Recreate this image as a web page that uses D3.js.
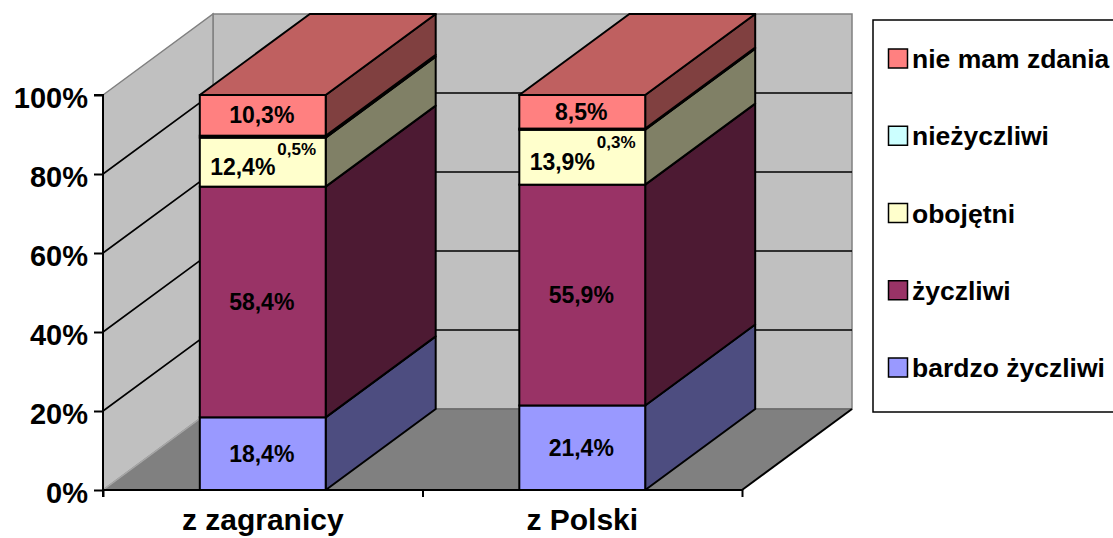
<!DOCTYPE html>
<html><head><meta charset="utf-8">
<script src="https://cdn.jsdelivr.net/npm/d3@7/dist/d3.min.js"></script>
<style>
html,body{margin:0;padding:0;background:#fff;overflow:hidden;}
text{font-family:"Liberation Sans",Arial,sans-serif;font-weight:bold;fill:#000;}
</style></head>
<body>
<svg id="chart" width="1113" height="538"></svg>
<script>
// ---- data ----
const categories = ["z zagranicy", "z Polski"];
const seriesNames = ["bardzo życzliwi", "życzliwi", "obojętni", "nieżyczliwi", "nie mam zdania"];
const bardzoZyczliwi = [18.4, 21.4];
const zyczliwi = [58.4, 55.9];
const obojetni = [12.4, 13.9];
const niezyczliwi = [0.5, 0.3];
const nieMamZdania = [10.3, 8.5];
const yTickValues = [0, 20, 40, 60, 80, 100];

// ---- styles ----
const frontColors = ["#9999ff", "#993366", "#ffffcc", "#ccffff", "#ff8080"];
const sideColors  = ["#4d4d80", "#4d1a33", "#808066", "#668080", "#804040"];
const topColor = "#bf6060";

const seriesValues = [bardzoZyczliwi, zyczliwi, obojetni, niezyczliwi, nieMamZdania];
const rows = categories.map((c, i) => {
  const r = {cat: c};
  seriesNames.forEach((s, k) => r[s] = seriesValues[k][i]);
  return r;
});
const stacked = d3.stack().keys(seriesNames)(rows);

const svg = d3.select("#chart");
const x0 = 103, x1 = 742, yBottom = 490, yTop = 95;
const DX = 110, DY = -81;

const y = d3.scaleLinear().domain([0, 100]).range([yBottom, yTop]);
const x = d3.scaleBand().domain(categories).range([x0, x1]).paddingInner(0.606).paddingOuter(0.303);
const xEdge = d3.scaleLinear().domain([0, categories.length]).range([x0, x1]);

const fmt = d3.formatLocale({decimal: ",", thousands: " ", grouping: [3], currency: ["", ""]}).format(".1f");
const pct = v => fmt(v) + "%";

const line = d3.line();

// walls
svg.append("path").attr("d", line([[x0+DX, y(100)+DY],[x1+DX, y(100)+DY],[x1+DX, y(0)+DY],[x0+DX, y(0)+DY]]) + "Z")
  .attr("fill", "#c0c0c0").attr("stroke", "#808080").attr("stroke-width", 1.5);
svg.append("path").attr("d", line([[x0, y(100)],[x0+DX, y(100)+DY],[x0+DX, y(0)+DY],[x0, y(0)]]) + "Z")
  .attr("fill", "#c0c0c0").attr("stroke", "#808080").attr("stroke-width", 1.5);

// gridlines
const gridVals = yTickValues.filter(v => v > 0 && v < 100);
gridVals.forEach(v => {
  svg.append("path").attr("d", line([[x0, y(v)],[x0+DX, y(v)+DY],[x1+DX, y(v)+DY]]))
    .attr("fill", "none").attr("stroke", "#000").attr("stroke-width", 1.6);
});

// floor
svg.append("path").attr("d", line([[x0, y(0)],[x0+DX, y(0)+DY],[x1+DX, y(0)+DY],[x1, y(0)]]) + "Z")
  .attr("fill", "#808080").attr("stroke", "none");
svg.append("path").attr("d", line([[x0, y(0)],[x0+DX, y(0)+DY]])).attr("stroke", "#a8a8a8").attr("stroke-width", 1.5);
svg.append("path").attr("d", line([[x0+DX, y(0)+DY],[x1+DX, y(0)+DY]])).attr("stroke", "#6a6a6a").attr("stroke-width", 1.5);
svg.append("path").attr("d", line([[x1, y(0)],[x1+DX, y(0)+DY]])).attr("stroke", "#000").attr("stroke-width", 2);

// bars
const bw = x.bandwidth();
categories.forEach((c, i) => {
  const g = svg.append("g");
  const bl = x(c), br = x(c) + bw;
  stacked.forEach((layer, k) => {
    const d = layer[i];
    const ya = y(d[0]), yb = y(d[1]);
    g.append("path").attr("d", line([[br, yb],[br+DX, yb+DY],[br+DX, ya+DY],[br, ya]]) + "Z")
      .attr("fill", sideColors[k]).attr("stroke", "#000").attr("stroke-width", 2).attr("stroke-linejoin", "round");
    g.append("rect").attr("x", bl).attr("y", yb).attr("width", bw).attr("height", ya - yb)
      .attr("fill", frontColors[k]).attr("stroke", "#000").attr("stroke-width", 2);
    if (k === stacked.length - 1) {
      g.append("path").attr("d", line([[bl, yb],[bl+DX, yb+DY],[br+DX, yb+DY],[br, yb]]) + "Z")
        .attr("fill", topColor).attr("stroke", "#000").attr("stroke-width", 2).attr("stroke-linejoin", "round");
    }
  });
  // labels
  stacked.forEach((layer, k) => {
    const d = layer[i];
    const v = d[1] - d[0];
    const cy = (y(d[0]) + y(d[1])) / 2;
    if (v < 2) {
      g.append("text").attr("x", br - 29).attr("y", cy + 18.5).attr("text-anchor", "middle")
        .style("font-size", "17px").text(pct(v));
    } else {
      const next = stacked[k+1] ? stacked[k+1][i] : null;
      const crowded = next && (next[1] - next[0]) < 2;
      g.append("text").attr("x", (bl + br) / 2 + (crowded ? -20 : -1)).attr("y", cy + (crowded ? 13 : 8))
        .attr("text-anchor", "middle").style("font-size", "23px").text(pct(v));
    }
  });
});

// axes
const yAxis = d3.axisLeft(y).tickValues(yTickValues).tickSize(9).tickPadding(6).tickFormat(d => d + "%");
const ya = svg.append("g").attr("transform", `translate(${x0},0)`).call(yAxis);
ya.select(".domain").attr("stroke", "#000").attr("stroke-width", 2).attr("d", `M-9,${y(100)}H0V${y(0)+7}`);
ya.selectAll(".tick line").attr("stroke", "#000").attr("stroke-width", 2);
ya.selectAll(".tick text").style("font-size", "29px").attr("dy", "0.42em")
  .style("font-family", '"Liberation Sans",Arial,sans-serif').style("font-weight", "bold").attr("fill", "#000");

const xAxis = d3.axisBottom(xEdge).tickValues(d3.range(categories.length + 1)).tickSize(7).tickFormat("");
const xa = svg.append("g").attr("transform", `translate(0,${y(0)})`).call(xAxis);
xa.select(".domain").attr("stroke", "#000").attr("stroke-width", 2).attr("d", `M${x0},0H${x1}`);
xa.selectAll(".tick line").attr("stroke", "#000").attr("stroke-width", 2);

svg.selectAll(".catlabel").data(categories).enter().append("text")
  .attr("x", d => x(d) + bw / 2).attr("y", 530).attr("text-anchor", "middle")
  .style("font-size", "30px").text(d => d);

// legend
const lg = svg.append("g");
lg.append("rect").attr("x", 873).attr("y", 20).attr("width", 260).attr("height", 392)
  .attr("fill", "#fff").attr("stroke", "#000").attr("stroke-width", 1.5);
const legendOrder = seriesNames.map((s, k) => k).reverse();
const ly = d3.scalePoint().domain(legendOrder).range([58.5, 367.5]);
legendOrder.forEach(k => {
  lg.append("rect").attr("x", 888.5).attr("y", ly(k) - 9.5).attr("width", 19).attr("height", 19)
    .attr("fill", frontColors[k]).attr("stroke", "#000").attr("stroke-width", 1.5);
  lg.append("text").attr("x", 912).attr("y", ly(k) + 9.5).style("font-size", "26.5px").text(seriesNames[k]);
});
</script>
</body></html>
